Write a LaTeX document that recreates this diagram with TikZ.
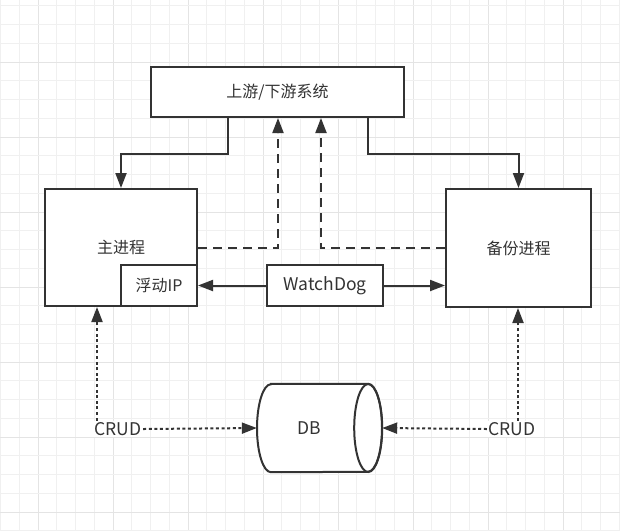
\documentclass[tikz,border=0pt]{standalone}
\usepackage{fontspec}
\setmainfont{Noto Sans CJK SC}
\usetikzlibrary{arrows.meta}
\definecolor{ink}{HTML}{333333}
\definecolor{gridminor}{HTML}{F0F0F0}
\definecolor{gridmajor}{HTML}{E4E4E4}
\begin{document}
\begin{tikzpicture}[x=1pt,y=-1pt,
  txt/.style={text=ink,font=\fontsize{16}{19}\selectfont},
  latin/.style={font=\fontsize{17.5}{20}\selectfont},
  box/.style={txt,draw=ink,line width=2pt,fill=white,inner sep=0pt},
  lab/.style={txt,latin,fill=white,inner sep=1.5pt},
  link/.style={draw=ink,line width=2pt,-{Triangle[length=15pt,width=11pt]}},
  dashlink/.style={link,dash pattern=on 9pt off 6pt},
  dotlink/.style={link,dash pattern=on 3pt off 2.6pt}]
\useasboundingbox (0,0) rectangle (620,531);
\fill[white] (0,0) rectangle (620,531);
% background grid
\foreach \k in {0,...,33}{
  \pgfmathtruncatemacro{\m}{mod(\k,4)}
  \ifnum\m=2 \def\gc{gridmajor}\else\def\gc{gridminor}\fi
  \draw[\gc,line width=1pt] ({0.5+18.75*\k},0) -- ({0.5+18.75*\k},531);
}
\foreach \k in {0,...,28}{
  \pgfmathtruncatemacro{\m}{mod(\k,4)}
  \ifnum\m=3 \def\gc{gridmajor}\else\def\gc{gridminor}\fi
  \draw[\gc,line width=1pt] (0,{5.75+18.75*\k}) -- (620,{5.75+18.75*\k});
}

% boxes
\node[box,minimum width=253pt,minimum height=50pt] (top) at (277.5,92) {上游/下游系统};
\node[box,minimum width=152pt,minimum height=117pt] (main) at (121,247.5) {主进程};
\node[box,minimum width=76pt,minimum height=41pt] (fip) at (159,285.5) {浮动IP};
\node[box,latin,minimum width=116pt,minimum height=41pt] (wd) at (325,285.5) {WatchDog};
\node[box,minimum width=145pt,minimum height=118pt] (backup) at (518.5,248) {备份进程};

% database cylinder
\node[minimum width=125pt,minimum height=88pt,inner sep=0pt] (db) at (319.5,428) {};
\draw[ink,line width=2pt,fill=white]
  ([xshift=-48.5pt]db.north) -- ([xshift=48.5pt]db.north)
  arc[start angle=90,end angle=-90,x radius=14pt,y radius=44pt]
  -- ([xshift=-48.5pt]db.south)
  arc[start angle=270,end angle=90,x radius=14pt,y radius=44pt] -- cycle;
\draw[ink,line width=2pt] ([xshift=-14pt]db.east) ellipse[x radius=14pt,y radius=44pt];
\node[txt,latin] at (309,428) {DB};

% feeds from the upstream system
\draw[link] ([xshift=-49.5pt]top.south) -- ++(0,36) -| (main.north);
\draw[link] ([xshift=90.5pt]top.south) -- ++(0,36) -| (backup.north);

% reports back to the upstream system
\draw[dashlink] (main.east) -| ([xshift=0.5pt]top.south);
\draw[dashlink] (backup.west) -| ([xshift=43.5pt]top.south);

% watchdog control
\draw[link] (wd.west) -- (fip.east);
\draw[link] (wd.east) -- (backup.west |- wd.east);

% CRUD access
\node[lab] (crudL) at (118,429) {CRUD};
\node[lab] (crudR) at (512,429) {CRUD};
\draw[dotlink] ([xshift=-21pt]crudL.north) -- ([xshift=-24pt]main.south);
\draw[dotlink] (crudL.east) -- (db.west);
\draw[dotlink] ([xshift=6pt]crudR.north) -- ([xshift=-0.5pt]backup.south);
\draw[dotlink] (crudR.west) -- (db.east);
\end{tikzpicture}
\end{document}
